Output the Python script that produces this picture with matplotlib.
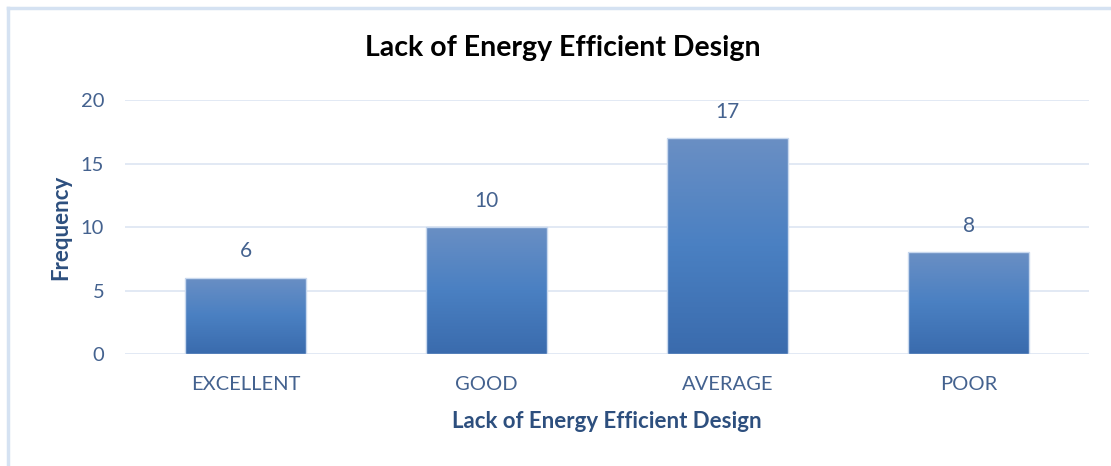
"""Bar chart: ratings of lack of energy efficient design."""

import matplotlib

matplotlib.use("Agg")
import matplotlib.pyplot as plt
import numpy as np
from matplotlib.colors import LinearSegmentedColormap
from matplotlib.lines import Line2D

categories = ["EXCELLENT", "GOOD", "AVERAGE", "POOR"]
frequency = [6, 10, 17, 8]
y_ticks = [0, 5, 10, 15, 20]

title = "Lack of Energy Efficient Design"
x_label = "Lack of Energy Efficient Design"
y_label = "Frequency"

plt.rcParams["font.family"] = ["Lato", "DejaVu Sans"]

TICK_COLOR = "#44628f"
LABEL_COLOR = "#2d4f7e"
GRID_COLOR = "#dfe7f3"
BORDER_COLOR = "#d5e2f2"

# vertical gradient used inside each bar (bottom -> top)
bar_cmap = LinearSegmentedColormap.from_list(
    "bar_grad", ["#3a6bad", "#4a80c2", "#6a8fc4"]
)

fig = plt.figure(figsize=(11.11, 4.66), dpi=100)
ax = fig.add_axes([0.1125, 0.2403, 0.8677, 0.5451])

x = np.arange(len(categories))
bars = ax.bar(x, frequency, width=0.5, color="none", edgecolor="#c8d8ee",
              linewidth=1.0, zorder=3)

grad = np.linspace(0, 1, 256).reshape(-1, 1)
for rect in bars:
    x0, y0 = rect.get_x(), rect.get_y()
    w, h = rect.get_width(), rect.get_height()
    img = ax.imshow(grad, cmap=bar_cmap, origin="lower", aspect="auto",
                    extent=[x0, x0 + w, y0, y0 + h], zorder=2)
    img.set_clip_path(rect)

for xi, val in zip(x, frequency):
    ax.annotate(str(val), (xi, val), xytext=(0, 19), textcoords="offset points",
                ha="center", va="center", fontsize=15, color=TICK_COLOR)

ax.set_xlim(-0.5, len(categories) - 0.5)
ax.set_ylim(0, 20)
ax.set_yticks(y_ticks)
ax.set_xticks(x)
ax.set_xticklabels(categories)
ax.tick_params(axis="both", length=0, labelsize=14.5, colors=TICK_COLOR)
ax.tick_params(axis="y", pad=15)
ax.tick_params(axis="x", pad=16)

ax.grid(axis="y", color=GRID_COLOR, linewidth=1.3, zorder=0)
ax.set_axisbelow(True)
for side in ax.spines.values():
    side.set_visible(False)

ax.set_xlabel(x_label, fontsize=16, fontweight="bold", color=LABEL_COLOR,
              labelpad=13)
ax.set_ylabel(y_label, fontsize=16, fontweight="bold", color=LABEL_COLOR,
              labelpad=7)

fig.text(563 / 1111, 1 - 48 / 466, title, ha="center", va="center",
         fontsize=20.5, fontweight="bold", color="#000000")

# chart-area border: only the top and left edges show
fig.add_artist(Line2D([8 / 1111, 8 / 1111], [0, 1 - 8 / 466],
                      transform=fig.transFigure, color=BORDER_COLOR, linewidth=2.5))
fig.add_artist(Line2D([8 / 1111, 1], [1 - 8 / 466, 1 - 8 / 466],
                      transform=fig.transFigure, color=BORDER_COLOR, linewidth=2.5))

fig.savefig("out.png", dpi=100)
print("Saved out.png")
